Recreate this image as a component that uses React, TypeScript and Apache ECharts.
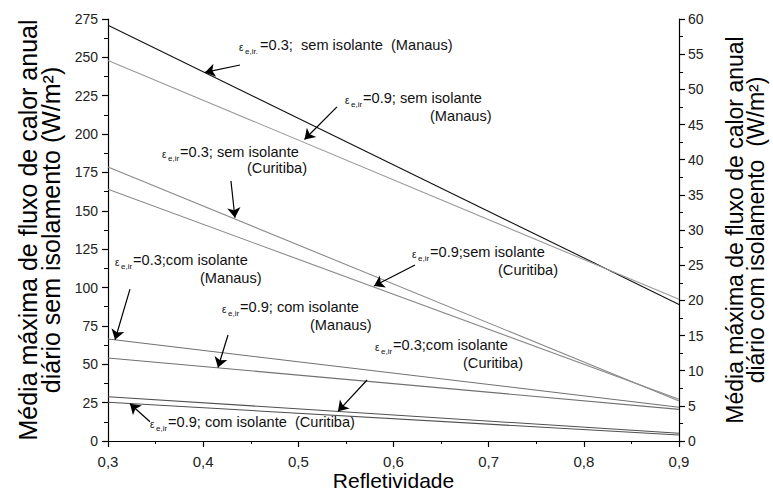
import { useEffect, useRef } from "react";
import * as echarts from "echarts";

// Reflectivity (x) — each curve is a straight segment between the two ends
const reflectivity = [0.3, 0.9];

// Without insulation, left axis (W/m²)
const semManaus03 = [271, 89];
const semManaus09 = [248, 92.3];
const semCuritiba03 = [178.5, 26.1];
const semCuritiba09 = [164, 27.2];

// With insulation, right axis (W/m²)
const comManaus03 = [14.5, 4.8];
const comManaus09 = [11.8, 4.5];
const comCuritiba03 = [6.3, 1.1];
const comCuritiba09 = [5.5, 0.85];

const FONT = '"Liberation Sans", Arial, Helvetica, sans-serif';

// Pointer arrows, in data units: [tail, head]
const arrowSemManaus03 = [[0.4387, 245.0], [0.4019, 240.2]];
const arrowSemManaus09 = [[0.5406, 217.7], [0.5065, 196.5]];
const arrowSemCuritiba03 = [[0.4292, 169.4], [0.4334, 145.5]];
const arrowSemCuritiba09 = [[0.6226, 114.7], [0.5795, 101.0]];
const arrowComManaus03 = [[0.3231, 21.6], [0.3074, 14.4]];
const arrowComManaus09 = [[0.4261, 15.07], [0.4156, 10.45]];
const arrowComCuritiba03 = [[0.5722, 8.67], [0.5417, 4.22]];
const arrowComCuritiba09 = [[0.3441, 2.74], [0.3231, 5.3]];

type Note = {
  x: number;
  y: number;
  sub: string;
  text: string;
  line2?: string;
  x2?: number;
  y2?: number;
};

// Annotation labels (pixel layout)
const notes: Note[] = [
  { x: 260, y: 45, sub: "e,ir.", text: "=0.3;  sem isolante  (Manaus)" },
  { x: 363, y: 98, sub: "e,ir", text: "=0.9; sem isolante", line2: "(Manaus)", x2: 430, y2: 116 },
  { x: 180, y: 152, sub: "e,ir", text: "=0.3; sem isolante", line2: "(Curitiba)", x2: 247, y2: 168 },
  { x: 430, y: 252, sub: "e,ir", text: "=0.9;sem isolante", line2: "(Curitiba)", x2: 498, y2: 270 },
  { x: 133, y: 260, sub: "e,ir", text: "=0.3;com isolante", line2: "(Manaus)", x2: 200, y2: 278 },
  { x: 240, y: 307, sub: "e,ir", text: "=0.9; com isolante", line2: "(Manaus)", x2: 310, y2: 325 },
  { x: 393, y: 345, sub: "e,ir", text: "=0.3;com isolante", line2: "(Curitiba)", x2: 463, y2: 363 },
  { x: 168, y: 422, sub: "e,ir", text: "=0.9; com isolante  (Curitiba)" },
];

function buildNotes() {
  const els: any[] = [];
  const size = 14.6;
  notes.forEach((n) => {
    const subW = n.sub.length > 4 ? 15 : 12;
    els.push({
      type: "text",
      x: n.x - subW - 6,
      y: n.y + 2,
      silent: true,
      style: { text: "ε", fontSize: 10, fontFamily: FONT, fill: "#111", verticalAlign: "middle" },
    });
    els.push({
      type: "text",
      x: n.x - subW,
      y: n.y + 6,
      silent: true,
      style: { text: n.sub, fontSize: 8, fontFamily: FONT, fill: "#111", verticalAlign: "middle" },
    });
    els.push({
      type: "text",
      x: n.x,
      y: n.y,
      silent: true,
      style: { text: n.text, fontSize: size, fontFamily: FONT, fill: "#111", verticalAlign: "middle" },
    });
    if (n.line2) {
      els.push({
        type: "text",
        x: n.x2,
        y: n.y2,
        silent: true,
        style: { text: n.line2, fontSize: size, fontFamily: FONT, fill: "#111", verticalAlign: "middle" },
      });
    }
  });
  return els;
}

function curve(
  name: string,
  values: number[],
  yAxisIndex: number,
  color: string,
  arrow: number[][]
) {
  return {
    type: "line",
    name,
    yAxisIndex,
    data: reflectivity.map((x, i) => [x, values[i]]),
    symbol: "none",
    silent: true,
    lineStyle: { color, width: 1.1 },
    emphasis: { disabled: true },
    markLine: {
      silent: true,
      symbol: ["none", "arrow"],
      symbolSize: 10,
      lineStyle: { color: "#000", width: 1.2, type: "solid" },
      label: { show: false },
      emphasis: { disabled: true },
      data: [[{ coord: arrow[0] }, { coord: arrow[1] }]],
    },
  };
}

export default function App() {
  const ref = useRef<HTMLDivElement>(null);

  useEffect(() => {
    const chart = echarts.init(ref.current!, null, { renderer: "svg" });
    const axisLine = { show: true, lineStyle: { color: "#000", width: 1.2 } };
    chart.setOption({
      animation: false,
      backgroundColor: "#fff",
      grid: { left: 108, right: 94, top: 19, bottom: 53, outerBoundsMode: "none" },
      xAxis: {
        type: "value",
        min: 0.3,
        max: 0.9,
        interval: 0.1,
        name: "Refletividade",
        nameLocation: "middle",
        nameMoveOverlap: false,
        nameGap: 29,
        nameTextStyle: { fontSize: 21, lineHeight: 21, fontFamily: FONT, color: "#000" },
        axisLine,
        axisTick: { show: true, length: 6, lineStyle: { color: "#000", width: 1.2 } },
        minorTick: { show: true, splitNumber: 2, length: 3, lineStyle: { color: "#000", width: 1 } },
        splitLine: { show: false },
        axisLabel: {
          fontSize: 15,
          fontFamily: FONT,
          color: "#222",
          margin: 13,
          formatter: (v: number) => v.toFixed(1).replace(".", ","),
        },
      },
      yAxis: [
        {
          type: "value",
          position: "left",
          min: 0,
          max: 275,
          interval: 25,
          name: "Média máxima de fluxo de calor anual\ndiário sem isolamento (W/m²)",
          nameLocation: "middle",
          nameRotate: 90,
          nameGap: 44,
          nameTextStyle: { fontSize: 25, lineHeight: 23, fontFamily: FONT, color: "#000" },
          axisLine,
          axisTick: { show: true, length: 6, lineStyle: { color: "#000", width: 1.2 } },
          minorTick: { show: true, splitNumber: 2, length: 4, lineStyle: { color: "#000", width: 1 } },
          splitLine: { show: false },
          axisLabel: { fontSize: 14, fontFamily: FONT, color: "#222", margin: 10 },
        },
        {
          type: "value",
          position: "right",
          min: 0,
          max: 60,
          interval: 5,
          name: "Média máxima de fluxo de calor anual\ndiário com isolamento  (W/m²)",
          nameLocation: "middle",
          nameRotate: 90,
          nameGap: 45,
          nameTextStyle: { fontSize: 23, lineHeight: 21, fontFamily: FONT, color: "#000" },
          axisLine,
          axisTick: { show: true, length: 6, lineStyle: { color: "#000", width: 1.2 } },
          minorTick: { show: true, splitNumber: 2, length: 4, lineStyle: { color: "#000", width: 1 } },
          splitLine: { show: false },
          axisLabel: { fontSize: 14, fontFamily: FONT, color: "#222", margin: 9 },
        },
      ],
      series: [
        curve("sem Manaus 0.3", semManaus03, 0, "#111", arrowSemManaus03),
        curve("sem Manaus 0.9", semManaus09, 0, "#9a9a9a", arrowSemManaus09),
        curve("sem Curitiba 0.3", semCuritiba03, 0, "#8a8a8a", arrowSemCuritiba03),
        curve("sem Curitiba 0.9", semCuritiba09, 0, "#8a8a8a", arrowSemCuritiba09),
        curve("com Manaus 0.3", comManaus03, 1, "#707070", arrowComManaus03),
        curve("com Manaus 0.9", comManaus09, 1, "#707070", arrowComManaus09),
        curve("com Curitiba 0.3", comCuritiba03, 1, "#505050", arrowComCuritiba03),
        curve("com Curitiba 0.9", comCuritiba09, 1, "#505050", arrowComCuritiba09),
      ],
      graphic: buildNotes(),
    });
    return () => chart.dispose();
  }, []);

  return (
    <div
      ref={ref}
      style={{ position: "fixed", left: 0, top: 0, width: 773, height: 494, background: "#fff" }}
    />
  );
}
